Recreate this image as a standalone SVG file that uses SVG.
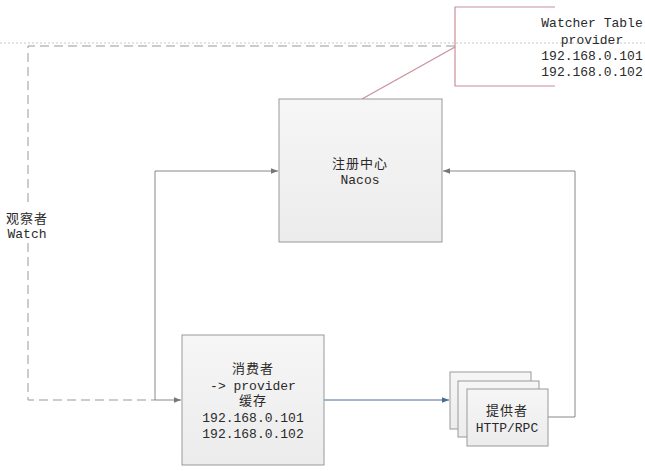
<svg xmlns="http://www.w3.org/2000/svg" width="645" height="471" viewBox="0 0 645 471">
<style>
.t{font-family:"Liberation Mono","Noto Sans CJK SC",monospace;font-size:13px;fill:#2a2a2a;text-anchor:middle}
.c{letter-spacing:1px}
.box{fill:url(#g);stroke:#999;stroke-width:1}
.ln{fill:none;stroke:#888;stroke-width:1}
.dash{fill:none;stroke:#999;stroke-width:1;stroke-dasharray:9,5}
.pink{fill:none;stroke:#c9909a;stroke-width:1.2}
</style>
<defs>
<linearGradient id="g" x1="0" y1="0" x2="0" y2="1">
<stop offset="0" stop-color="#f6f6f6"/><stop offset="1" stop-color="#ececec"/>
</linearGradient>
<marker id="a" viewBox="0 0 10 10" refX="10" refY="5" markerWidth="7" markerHeight="7" orient="auto">
<path d="M0,1 L10,5 L0,9 z" fill="#777"/>
</marker>
<marker id="ab" viewBox="0 0 10 10" refX="10" refY="5" markerWidth="7" markerHeight="7" orient="auto">
<path d="M0,1 L10,5 L0,9 z" fill="#4a6a9a"/>
</marker>
</defs>
<rect width="645" height="471" fill="#fff"/>
<line x1="0" y1="43" x2="645" y2="43" stroke="#c8c8c8" stroke-dasharray="2,2"/>
<g id="connectors">
<path class="dash" d="M455,46 H28 V205"/>
<path class="dash" d="M28,243 V400 H155"/>
<path class="ln" d="M155,400 V171 H278" marker-end="url(#a)"/>
<path class="ln" d="M155,400 H181" marker-end="url(#a)"/>
<path d="M324,400 H449" fill="none" stroke="#4a6a9a" stroke-width="1" marker-end="url(#ab)"/>
<path class="ln" d="M548,417 H575 V171 H443" marker-end="url(#a)"/>
<path class="pink" d="M455,47 L362,99"/>
</g>
<g id="watcher-table">
<path class="pink" d="M555,7 H455 V86 H555"/>
<text class="t" x="592" y="27">Watcher Table</text>
<text class="t" x="592" y="44">provider</text>
<text class="t" x="592" y="60">192.168.0.101</text>
<text class="t" x="592" y="76">192.168.0.102</text>
</g>
<g id="nacos">
<rect class="box" x="279" y="99" width="163" height="143"/>
<text class="t c" x="360" y="168">注册中心</text>
<text class="t" x="360" y="184">Nacos</text>
</g>
<g id="watch-label">
<text class="t c" x="27" y="223">观察者</text>
<text class="t" x="27" y="238">Watch</text>
</g>
<g id="consumer">
<rect class="box" x="182" y="335" width="142" height="130"/>
<text class="t c" x="253" y="373">消费者</text>
<text class="t" x="253" y="390">-&gt; provider</text>
<text class="t c" x="253" y="405">缓存</text>
<text class="t" x="253" y="422">192.168.0.101</text>
<text class="t" x="253" y="438">192.168.0.102</text>
</g>
<g id="provider">
<rect class="box" x="450" y="372" width="81" height="57"/>
<rect class="box" x="458" y="381" width="81" height="56"/>
<rect class="box" x="467" y="389" width="81" height="57"/>
<text class="t c" x="507" y="415">提供者</text>
<text class="t" x="507" y="432">HTTP/RPC</text>
</g>
</svg>
